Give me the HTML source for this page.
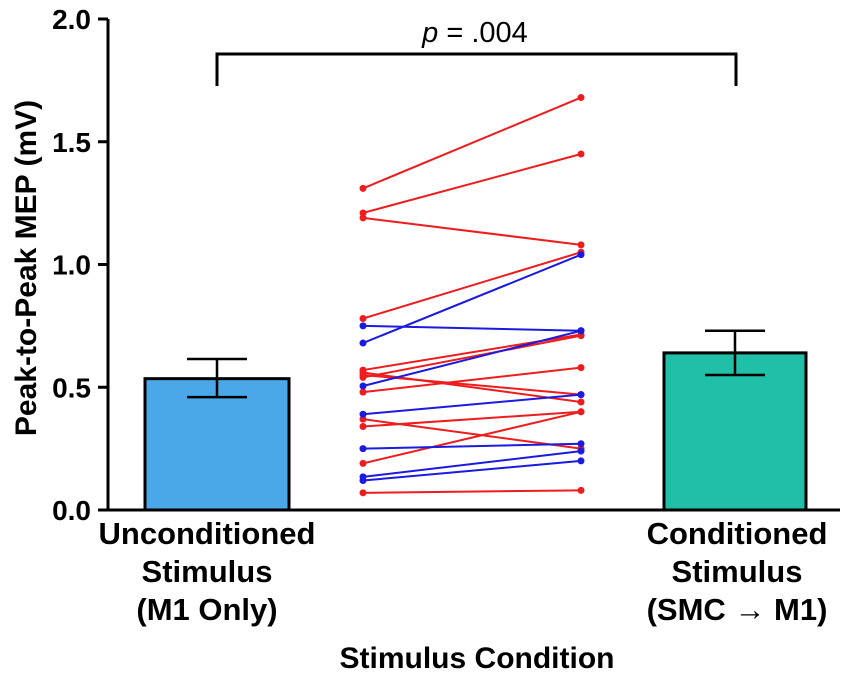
<!DOCTYPE html>
<html><head><meta charset="utf-8"><style>
body{margin:0;background:#fff}
svg text{font-family:"Liberation Sans",Arial,sans-serif;font-weight:bold;fill:#000}
</style></head><body>
<svg id="chart" width="851" height="675" xmlns="http://www.w3.org/2000/svg">
<g id="g"></g>
<text x="475" y="42" text-anchor="middle" font-size="29" style="font-weight:normal"><tspan font-style="italic">p</tspan> = .004</text>
<text transform="translate(36,268) rotate(-90)" text-anchor="middle" font-size="30">Peak-to-Peak MEP (mV)</text>
<g font-size="31">
<text x="207" y="544" text-anchor="middle">Unconditioned</text>
<text x="207" y="582" text-anchor="middle">Stimulus</text>
<text x="207" y="620" text-anchor="middle">(M1 Only)</text></g>
<g font-size="31">
<text x="737" y="544" text-anchor="middle">Conditioned</text>
<text x="737" y="582" text-anchor="middle">Stimulus</text>
<text x="737" y="620" text-anchor="middle">(SMC → M1)</text></g>
<text x="477" y="668" text-anchor="middle" font-size="30">Stimulus Condition</text>
</svg>
<script>
const yTicks=[0,0.5,1.0,1.5,2.0];
const yTickLabels=["0.0","0.5","1.0","1.5","2.0"];
const barMeans=[0.535,0.64];
const barLow=[0.46,0.55];
const barHigh=[0.615,0.73];
const redLeft=[1.31,1.21,1.19,0.78,0.57,0.56,0.55,0.54,0.48,0.37,0.34,0.19,0.07];
const redRight=[1.68,1.45,1.08,1.05,0.715,0.44,0.47,0.71,0.58,0.25,0.40,0.40,0.08];
const blueLeft=[0.75,0.68,0.505,0.39,0.25,0.135,0.12];
const blueRight=[0.73,1.04,0.73,0.47,0.27,0.24,0.20];
const NS="http://www.w3.org/2000/svg";
const g=document.getElementById('g');
const y0=510,y1=19,vmax=2.0;
function Y(v){return y0-(v/vmax)*(y0-y1);}
function mk(t,a){const e=document.createElementNS(NS,t);for(const k in a)e.setAttribute(k,a[k]);g.appendChild(e);return e;}
const barX=[[145,289],[664,806]];const barCol=["#4aa8e8","#1fbfa8"];
barMeans.forEach((m,i)=>{
 const r=mk('rect',{x:barX[i][0],y:Y(m),width:barX[i][1]-barX[i][0],height:y0-Y(m),fill:barCol[i],stroke:'#000','stroke-width':3});
 
 
 const cx=(barX[i][0]+barX[i][1])/2;
 const e=mk('path',{d:`M${cx},${Y(barLow[i])}V${Y(barHigh[i])}M${cx-30},${Y(barHigh[i])}H${cx+30}M${cx-30},${Y(barLow[i])}H${cx+30}`,stroke:'#000','stroke-width':2.5,fill:'none'});
 
 
});
const xl=363,xr=581;
function pairs(L,R,c){L.forEach((v,i)=>{
 const l=mk('line',{x1:xl,y1:Y(v),x2:xr,y2:Y(R[i]),stroke:c,'stroke-width':2});
 
 
 mk('circle',{cx:xl,cy:Y(v),r:3.5,fill:c});
 mk('circle',{cx:xr,cy:Y(R[i]),r:3.5,fill:c});
});}
pairs(redLeft,redRight,'#ee1c1c');pairs(blueLeft,blueRight,'#1a1ae0');
const ax=mk('path',{d:`M108,${y1}V${y0}M98,${y0}H840`,stroke:'#000','stroke-width':3,fill:'none'});


yTicks.forEach((v,i)=>{
 mk('line',{x1:98,x2:108,y1:Y(v),y2:Y(v),stroke:'#000','stroke-width':3});
 const t=mk('text',{x:91,y:Y(v)+10,'text-anchor':'end','font-size':28});t.textContent=yTickLabels[i];
 
 
});
const br=mk('path',{d:'M217,86V54H736V86',stroke:'#000','stroke-width':3,fill:'none'});


</script>
</body></html>
